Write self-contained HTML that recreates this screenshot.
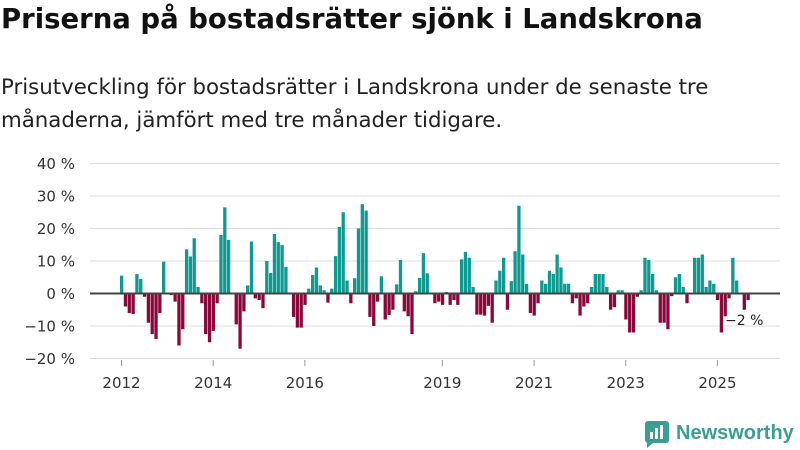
<!DOCTYPE html>
<html><head><meta charset="utf-8"><style>
body{margin:0;background:#fff;width:800px;height:450px;overflow:hidden;font-family:"DejaVu Sans","Liberation Sans",sans-serif;}
#t{position:absolute;left:1px;top:3px;font-size:27.5px;font-weight:bold;color:#111;margin:0;white-space:nowrap}
#s{position:absolute;left:1px;top:71px;font-size:21.3px;color:#222;line-height:33px;margin:0;white-space:nowrap}
svg{position:absolute;left:0;top:0}
</style></head><body>
<h1 id="t">Priserna på bostadsrätter sjönk i Landskrona</h1>
<p id="s">Prisutveckling för bostadsrätter i Landskrona under de senaste tre<br>månaderna, jämfört med tre månader tidigare.</p>
<svg width="800" height="450">
<g id="grid"></g><g id="bars"></g><g id="axis"></g>
<text x="725" y="325" font-size="14" fill="#222">−2 %</text>
<g>
<rect x="645" y="421" width="24" height="22" rx="3" fill="#3a9e92"/>
<rect x="650" y="432" width="3" height="7" fill="#fff"/><rect x="655" y="428" width="3" height="11" fill="#fff"/><rect x="660" y="425" width="3" height="14" fill="#fff"/>
<polygon points="647,443 653,443 647,448" fill="#3a9e92"/>
<text x="676" y="439" font-size="20" font-weight="bold" fill="#3a9e92" font-family="Liberation Sans, sans-serif">Newsworthy</text>
</g>
</svg>
<script>
const values=[5.5,-4,-6,-6.3,6,4.5,-1,-9,-12.5,-14,-6,9.8,0.3,-0.5,-2.5,-16,-11,13.6,11.4,17,2,-3,-12.5,-15,-11.5,-3,18,26.5,16.5,0,-9.5,-17,-5.5,2.5,16,-1.5,-2,-4.5,10,6.3,18.3,15.8,14.9,8.2,0,-7.2,-10.5,-10.5,-3.5,1.5,5.7,8,2.5,1,-2.8,1.5,11.5,20.5,25,4,-3,4.7,20,27.5,25.5,-7.2,-10,-2.5,5.3,-8,-6.6,-5,2.8,10.3,-5.5,-7,-12.5,0.7,4.8,12.4,6.2,0,-3,-2.5,-3.5,0.5,-3.5,-2,-3.5,10.5,12.8,11,2,-6.5,-6.5,-6.8,-3.8,-9,4,7,11,-5,3.8,13,27,12,3,-6,-6.8,-3,4,3,7,6,12,8,3,3,-3,-1.5,-6.8,-4,-3,2,6,6,6,2,-5,-4.2,1,1,-8,-12,-12,-1,1,11,10.3,6,1,-9,-9,-11,-0.8,5,6,2,-3,0,11,11,12,2,4,3,-2,-12,-7,-1.5,11,4,0,-5,-2];
const yTicks=[40,30,20,10,0,-10,-20];
const yearLabels=["2012","2014","2016","2019","2021","2023","2025"];
const yearIndex=[0,24,48,84,108,132,156];
const NS="http://www.w3.org/2000/svg";
const y=v=>293.5-v*3.25;
const x=i=>120+i*3.82;
function mk(t,a,p){const e=document.createElementNS(NS,t);for(const k in a)e.setAttribute(k,a[k]);p.appendChild(e);return e;}
const G=document.getElementById('grid'),B=document.getElementById('bars'),A=document.getElementById('axis');
yTicks.forEach(v=>{
 const l=mk('line',{x1:90,x2:780,y1:y(v),y2:y(v),stroke:'#ddd','stroke-width':1},G);
 
 
 const t=mk('text',{x:75,y:y(v)+5.5,'text-anchor':'end','font-size':15,fill:'#333'},G);
 t.textContent=(v<0?'−'+(-v):v)+' %';
 
 
});
values.forEach((v,i)=>{
 const r=mk('rect',{x:x(i),width:3.3,y:Math.min(y(v),y(0)),height:Math.abs(y(v)-y(0)),fill:v>=0?'#0d9a90':'#8c0739'},B);
 
 
});
const z=mk('line',{x1:90,x2:780,y1:y(0),y2:y(0),stroke:'#444','stroke-width':2},A);


yearLabels.forEach((s,k)=>{
 const i=yearIndex[k];
 const tk=mk('line',{x1:x(i)+1.5,x2:x(i)+1.5,y1:360,y2:366,stroke:'#999'},A);
 
 
 const t=mk('text',{x:x(i)+1.5,y:388,'text-anchor':'middle','font-size':15,fill:'#333'},A);
 t.textContent=s;
 
 
});
</script>
</body></html>
